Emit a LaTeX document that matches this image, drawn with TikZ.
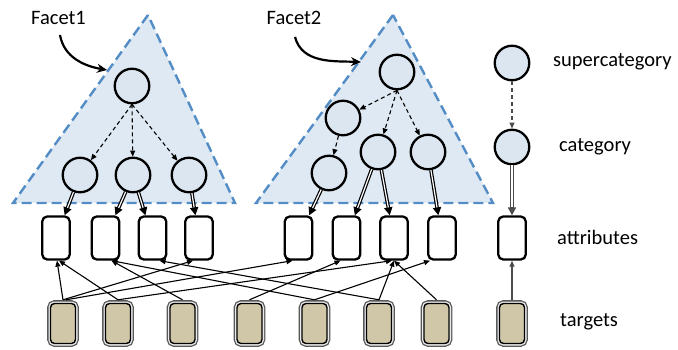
\documentclass[tikz,border=0pt]{standalone}
\usepackage{fontspec}
\setmainfont{Carlito}
\usetikzlibrary{arrows.meta}

\definecolor{facetfill}{RGB}{222,233,243}
\definecolor{facetedge}{RGB}{84,141,197}
\definecolor{nodefill}{RGB}{220,230,241}
\definecolor{targetfill}{RGB}{208,199,168}

\begin{document}
\begin{tikzpicture}[x=1pt,y=-1pt,
  facet/.style={draw=facetedge, fill=facetfill, line width=2.4pt,
    dash pattern=on 10pt off 5pt, line join=miter},
  catnode/.style={circle, draw=black, fill=nodefill, line width=2.3pt,
    minimum size=34.5pt, inner sep=0pt},
  attrbox/.style={rectangle, rounded corners=5pt, draw=black, fill=white,
    line width=2.3pt, minimum width=27.5pt, minimum height=43pt, inner sep=0pt},
  targetbox/.style={rectangle, rounded corners=4pt, draw=black, fill=targetfill,
    line width=1.4pt, minimum width=25pt, minimum height=40pt, inner sep=0pt,
    preaction={draw=black!65, line width=6.6pt},
    preaction={draw=white!92!black, line width=4pt}},
  lbl/.style={font=\fontsize{20.5}{24}\selectfont, inner sep=0pt},
  sidelbl/.style={lbl, anchor=west},
  thinarr/.style={line width=1.1pt, -{Triangle[length=6pt,width=5pt]}},
  dasharr/.style={line width=1.1pt, dash pattern=on 4pt off 3pt,
    -{Triangle[length=6pt,width=5pt]}},
  dblarr/.style={draw=#1, line width=3.6pt, -{Triangle[length=8pt,width=8pt]},
    postaction={draw=white, line width=1.2pt, -, shorten >=8pt}},
  dblarr/.default=black,
  callout/.style={line width=2.2pt, -{Stealth[length=10pt,width=9pt]}}
]
\useasboundingbox (0,0) rectangle (678,350);

% facet regions
\coordinate (f1top) at (148,15);
\coordinate (f1left) at (13,203);
\coordinate (f1right) at (235,203);
\coordinate (f2top) at (393,15);
\coordinate (f2left) at (256,203);
\coordinate (f2right) at (493,203);
\draw[facet] (f1top) -- (f1left) -- (f1right) -- cycle;
\draw[facet] (f2top) -- (f2left) -- (f2right) -- cycle;

% category hierarchy
\node[catnode] (f1r) at (132,86) {};
\node[catnode] (f1a) at (80,175) {};
\node[catnode] (f1b) at (133,175) {};
\node[catnode] (f1c) at (189,175) {};
\node[catnode] (f2r) at (397,72) {};
\node[catnode] (f2s) at (343,118) {};
\node[catnode] (f2a) at (329,173) {};
\node[catnode] (f2b) at (378,152) {};
\node[catnode] (f2c) at (428,152) {};
\node[catnode] (sup) at (512,63) {};
\node[catnode] (catg) at (512,147) {};

% attributes
\node[attrbox] (a1) at (56,238) {};
\node[attrbox] (a2) at (105.5,238) {};
\node[attrbox] (a3) at (152.5,238) {};
\node[attrbox] (a4) at (199,238) {};
\node[attrbox] (a5) at (298.5,238) {};
\node[attrbox] (a6) at (346.5,238) {};
\node[attrbox] (a7) at (394,238) {};
\node[attrbox] (a8) at (442,238) {};
\node[attrbox] (a9) at (512,238) {};

% targets
\node[targetbox] (t1) at (63,323.5) {};
\node[targetbox] (t2) at (118,323.5) {};
\node[targetbox] (t3) at (182.5,323.5) {};
\node[targetbox] (t4) at (249.5,323.5) {};
\node[targetbox] (t5) at (314.5,323.5) {};
\node[targetbox] (t6) at (379,323.5) {};
\node[targetbox] (t7) at (436.5,323.5) {};
\node[targetbox] (t8) at (512,323.5) {};

% labels
\node[lbl] (f1lab) at (58.5,18) {Facet1};
\node[lbl] (f2lab) at (294,18) {Facet2};
\node[sidelbl] (lsup) at (553,62) {supercategory};
\node[sidelbl] (lcat) at (559,147) {category};
\node[sidelbl] (lattr) at (557,237) {attributes};
\node[sidelbl] (ltgt) at (560,322) {targets};

% callouts
\coordinate (f1from) at (60,35);
\coordinate (f1tip) at (107,70);
\coordinate (f2from) at (295,37);
\coordinate (f2tip) at (361,62);
\draw[callout] (f1from) to[out=-80,in=170] (f1tip);
\draw[callout] (f2from) to[out=-75,in=178] (f2tip);

% subcategory links
\draw[dasharr] (f1r.south) -- (f1a);
\draw[dasharr] (f1r.south) -- (f1b);
\draw[dasharr] (f1r.south) -- (f1c);
\draw[dasharr] (f2r.south) -- (f2s);
\draw[dasharr] (f2r.south) -- (f2b);
\draw[dasharr] (f2r.south) -- (f2c);
\draw[dasharr] (f2s) -- (f2a);
\draw[dasharr, draw=black!70] (sup) -- (catg);

% category to attribute links
\draw[dblarr] (f1a) -- (a1);
\draw[dblarr] (f1b) -- (a2);
\draw[dblarr] (f1b) -- (a3);
\draw[dblarr] (f1c) -- (a4);
\draw[dblarr] (f2a) -- (a5);
\draw[dblarr] (f2b) -- (a6);
\draw[dblarr] (f2b) -- (a7);
\draw[dblarr] (f2c) -- (a8);
\draw[dblarr=black!70] (catg) -- (a9);

% target to attribute links
\draw[thinarr] ([yshift=3pt]t1.north) -- ([xshift=1pt]a1.south);
\draw[thinarr] ([yshift=3pt]t1.north) -- ([xshift=-6pt]a4.south);
\draw[thinarr] ([xshift=3pt,yshift=3pt]t1.north) -- ([xshift=-6pt]a5.south);
\draw[thinarr] ([yshift=3pt]t2.north) -- ([xshift=3pt]a1.south);
\draw[thinarr] ([yshift=3pt]t2.north) -- ([xshift=-2pt]a7.south);
\draw[thinarr] ([yshift=3pt]t3.north) -- ([xshift=6pt]a2.south);
\draw[thinarr] ([yshift=3pt]t4.north) -- ([xshift=-6pt]a6.south);
\draw[thinarr] ([yshift=3pt]t5.north) -- ([xshift=6pt]a2.south);
\draw[thinarr] ([yshift=3pt]t5.north) -- ([xshift=-12pt]a8.south);
\draw[thinarr] ([yshift=3pt]t6.north) -- ([xshift=7pt]a3.south);
\draw[thinarr] ([yshift=3pt]t6.north) -- (a7.south);
\draw[thinarr] ([yshift=3pt]t7.north) -- (a7.south);
\draw[thinarr, draw=black!70] ([yshift=3pt]t8.north) -- (a9.south);
\end{tikzpicture}
\end{document}
